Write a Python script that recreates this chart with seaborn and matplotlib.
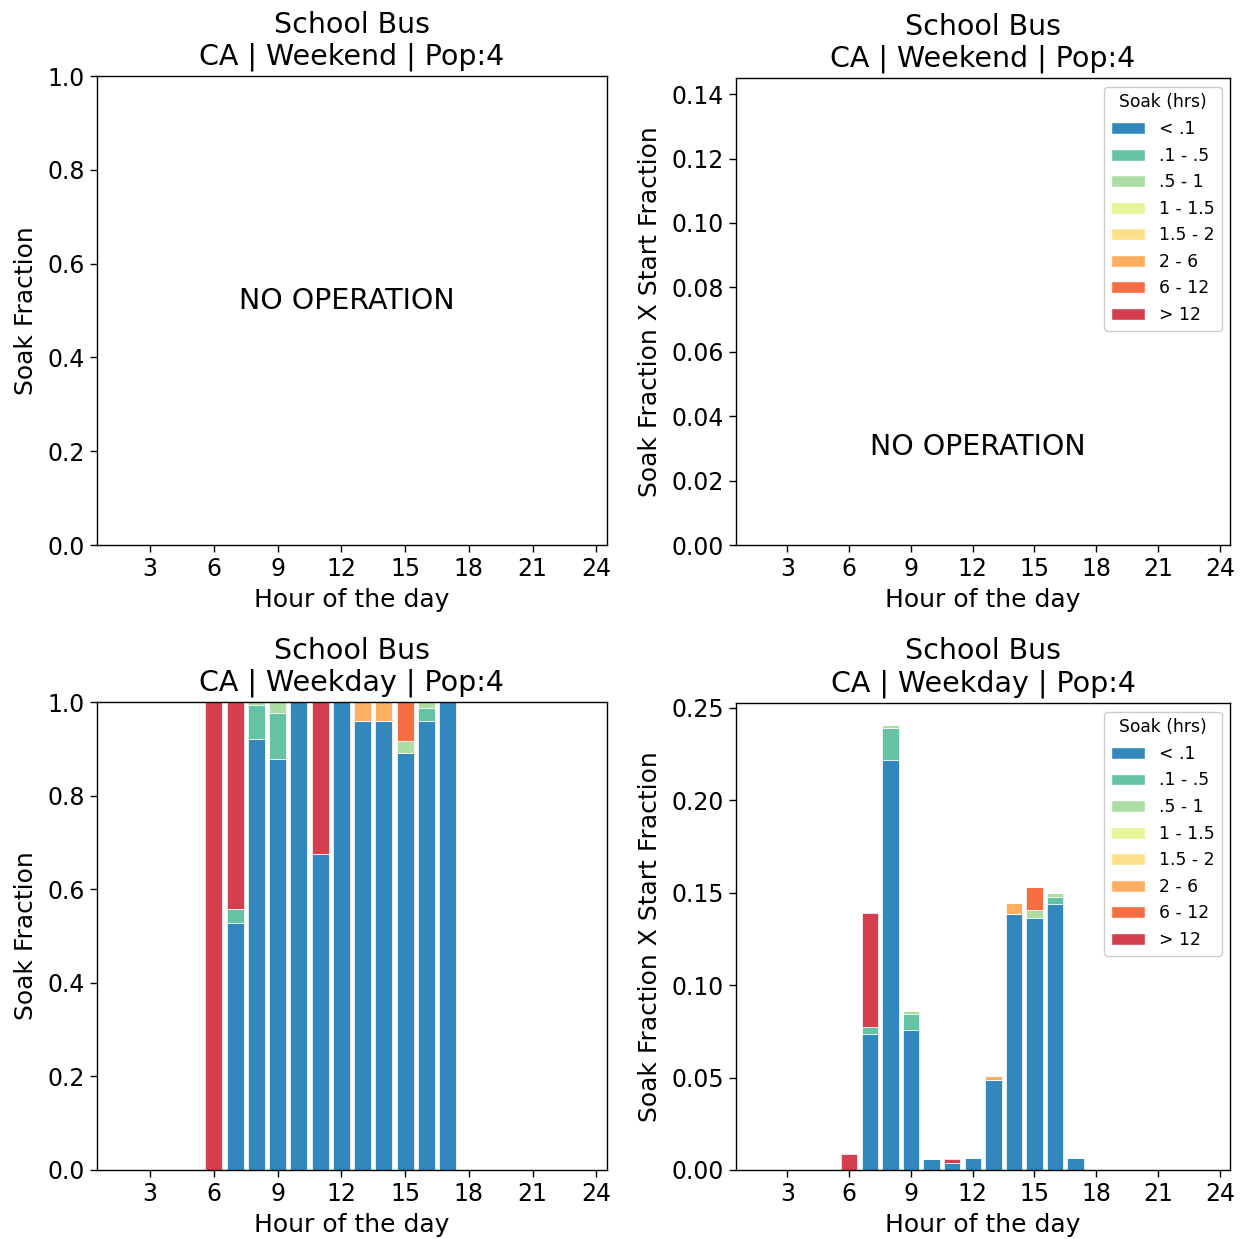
import numpy as np
import pandas as pd
import matplotlib
matplotlib.use("Agg")
import matplotlib.pyplot as plt
from matplotlib.patches import Patch
import seaborn as sns

# ---------------- data ----------------
hours = [6, 7, 8, 9, 10, 11, 12, 13, 14, 15, 16, 17]
start_frac = [0.0086, 0.1391, 0.2407, 0.0863, 0.0058, 0.0058,
              0.0063, 0.0508, 0.1445, 0.1533, 0.1499, 0.0063]

soak_labels = ["< .1", ".1 - .5", ".5 - 1", "1 - 1.5", "1.5 - 2", "2 - 6", "6 - 12", "> 12"]
soak_lt_0_1   = [0.0, 0.528, 0.921, 0.878, 1.0, 0.676, 1.0, 0.959, 0.959, 0.891, 0.959, 1.0]
soak_0_1_0_5  = [0.0, 0.030, 0.072, 0.098, 0.0, 0.0, 0.0, 0.0, 0.0, 0.0, 0.028, 0.0]
soak_0_5_1    = [0.0, 0.0, 0.007, 0.024, 0.0, 0.0, 0.0, 0.0, 0.0, 0.026, 0.013, 0.0]
soak_1_1_5    = [0.0] * 12
soak_1_5_2    = [0.0] * 12
soak_2_6      = [0.0, 0.0, 0.0, 0.0, 0.0, 0.0, 0.0, 0.041, 0.041, 0.0, 0.0, 0.0]
soak_6_12     = [0.0, 0.0, 0.0, 0.0, 0.0, 0.0, 0.0, 0.0, 0.0, 0.083, 0.0, 0.0]
soak_gt_12    = [1.0, 0.442, 0.0, 0.0, 0.0, 0.324, 0.0, 0.0, 0.0, 0.0, 0.0, 0.0]

soak_series = [soak_lt_0_1, soak_0_1_0_5, soak_0_5_1, soak_1_1_5,
               soak_1_5_2, soak_2_6, soak_6_12, soak_gt_12]

soak_colors = ["#3288bd", "#66c2a5", "#abdda4", "#e6f598",
               "#fee08b", "#fdae61", "#f46d43", "#d53e4f"]

xticks = [3, 6, 9, 12, 15, 18, 21, 24]
title_weekend = "School Bus\nCA | Weekend | Pop:4"
title_weekday = "School Bus\nCA | Weekday | Pop:4"

# ---------------- build table ----------------
rows = []
for lab, vals in zip(soak_labels, soak_series):
    for h, v, s in zip(hours, vals, start_frac):
        rows.append({"hour": h, "soak": lab, "frac": v, "frac_x_start": v * s})
df = pd.DataFrame(rows)

sns.set_theme(style="ticks")
plt.rcParams["font.family"] = ["DejaVu Sans"]
plt.rcParams["axes.edgecolor"] = "black"
plt.rcParams["axes.linewidth"] = 1.0
plt.rcParams["text.color"] = "black"
plt.rcParams["axes.labelcolor"] = "black"
plt.rcParams["xtick.color"] = "black"
plt.rcParams["ytick.color"] = "black"

pal = dict(zip(soak_labels, soak_colors))
hue_order = soak_labels[::-1]

fig = plt.figure(figsize=(12.46, 12.39), dpi=100)
ax_tl = fig.add_axes([0.0778, 0.5601, 0.4093, 0.3785])
ax_tr = fig.add_axes([0.5907, 0.5601, 0.3965, 0.3769])
ax_bl = fig.add_axes([0.0778, 0.0557, 0.4093, 0.3777])
ax_br = fig.add_axes([0.5907, 0.0557, 0.3965, 0.3769])

TICK = 17
LAB = 18
TIT = 20.5

def style(ax, title, ylabel):
    ax.set_title(title, fontsize=TIT, pad=8, color="black")
    ax.set_xlabel("Hour of the day", fontsize=LAB, labelpad=5.5)
    ax.set_ylabel(ylabel, fontsize=LAB, labelpad=7)
    ax.set_xlim(0.5, 24.5)
    ax.set_xticks(xticks)
    ax.tick_params(axis="both", labelsize=TICK, length=5, width=1, color="black",
                   labelcolor="black", direction="out")
    for sp in ax.spines.values():
        sp.set_visible(True)
        sp.set_color("black")

# bottom panels: stacked bars
sns.histplot(data=df, x="hour", weights="frac", hue="soak", hue_order=hue_order,
             palette=pal, multiple="stack", discrete=True, shrink=0.8,
             alpha=1, edgecolor="white", linewidth=0.5, legend=False, ax=ax_bl)
sns.histplot(data=df, x="hour", weights="frac_x_start", hue="soak", hue_order=hue_order,
             palette=pal, multiple="stack", discrete=True, shrink=0.8,
             alpha=1, edgecolor="white", linewidth=0.5, legend=False, ax=ax_br)

style(ax_tl, title_weekend, "Soak Fraction")
style(ax_tr, title_weekend, "Soak Fraction X Start Fraction")
style(ax_bl, title_weekday, "Soak Fraction")
style(ax_br, title_weekday, "Soak Fraction X Start Fraction")

ax_tl.set_ylim(0, 1.0)
ax_tl.set_yticks(np.arange(0, 1.01, 0.2))
ax_bl.set_ylim(0, 1.0)
ax_bl.set_yticks(np.arange(0, 1.01, 0.2))
ax_tr.set_ylim(0, 0.145)
ax_tr.set_yticks(np.arange(0, 0.141, 0.02))
ax_br.set_ylim(0, 0.2527)
ax_br.set_yticks(np.arange(0, 0.251, 0.05))

ax_tl.text(0.49, 0.52, "NO OPERATION", transform=ax_tl.transAxes,
           ha="center", va="center", fontsize=20.5, color="black")
ax_tr.text(0.49, 0.21, "NO OPERATION", transform=ax_tr.transAxes,
           ha="center", va="center", fontsize=20.5, color="black")

handles = [Patch(facecolor=pal[l], edgecolor="white", label=l) for l in soak_labels]
for ax in (ax_tr, ax_br):
    leg = ax.legend(handles=handles, title="Soak (hrs)", loc="upper right",
                    fontsize=12.3, title_fontsize=12.3, frameon=True, framealpha=1,
                    edgecolor="#cccccc", fancybox=True)

fig.savefig("out.png", dpi=100)
